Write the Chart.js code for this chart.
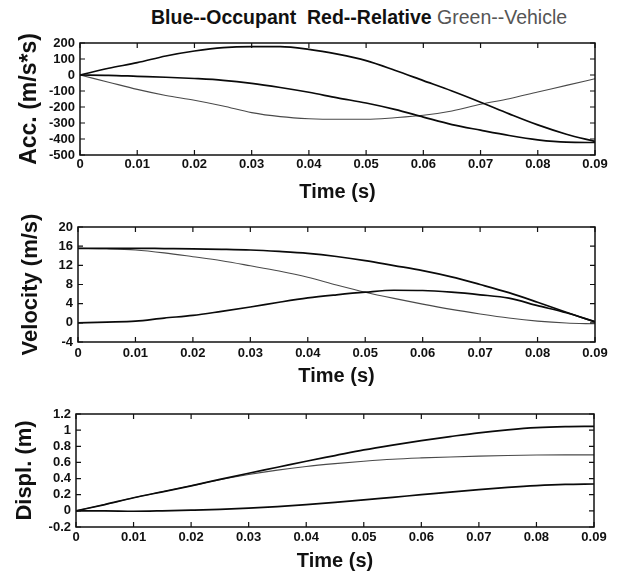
<!DOCTYPE html>
<html>
<head>
<meta charset="utf-8">
<script src="https://cdn.jsdelivr.net/npm/chart.js@4.4.1/dist/chart.umd.min.js"></script>
<style>
  html, body { margin: 0; padding: 0; background: #fff; }
  #wrap { position: relative; width: 619px; height: 578px; background: #fff; overflow: hidden; }
  canvas { position: absolute; left: 0; }
  #title { position: absolute; left: 151px; top: 6px; white-space: nowrap;
           font-family: "Liberation Sans", Arial, Helvetica, sans-serif; font-size: 19.5px; line-height: 22px; }
  #title .b { font-weight: bold; color: #111; }
  #title .g { font-weight: normal; color: #555; }
</style>
</head>
<body>
<div id="wrap">
  <div id="title"><span class="b">Blue--Occupant&nbsp;&nbsp;Red--Relative</span> <span class="g">Green--Vehicle</span></div>
  <canvas id="c1" width="619" height="182" style="top:28px"></canvas>
  <canvas id="c2" width="619" height="183" style="top:212px"></canvas>
  <canvas id="c3" width="619" height="180" style="top:398px"></canvas>
</div>
<script>
// ---- data (time in s) ----
const time = [0, 0.005, 0.01, 0.015, 0.02, 0.025, 0.03, 0.035, 0.04, 0.045,
              0.05, 0.055, 0.06, 0.065, 0.07, 0.075, 0.08, 0.085, 0.09];
const xTickLabels = ['0', '0.01', '0.02', '0.03', '0.04', '0.05', '0.06', '0.07', '0.08', '0.09'];

// Acceleration (m/s*s)
const accOccupant = [0, -2, -8, -14, -22, -33, -52, -78, -108, -143, -175, -215, -263, -310, -345, -378, -405, -420, -422];
const accRelative = [0, 42, 77, 119, 150, 171, 177, 177, 160, 130, 90, 30, -35, -100, -170, -243, -312, -370, -415];
const accVehicle  = [0, -45, -90, -128, -158, -194, -235, -260, -273, -277, -277, -267, -252, -225, -183, -148, -106, -65, -23];

// Velocity (m/s)
const velOccupant = [15.55, 15.55, 15.55, 15.5, 15.45, 15.35, 15.2, 14.9, 14.5, 13.85, 13.0, 11.95, 10.9, 9.6, 8.0, 6.3, 4.3, 2.2, 0.2];
const velRelative = [0, 0.15, 0.35, 1.0, 1.55, 2.4, 3.3, 4.3, 5.2, 5.85, 6.4, 6.8, 6.75, 6.4, 5.85, 5.15, 3.6, 2.1, 0.25];
const velVehicle  = [15.55, 15.45, 15.2, 14.6, 13.8, 12.95, 11.9, 10.8, 9.5, 7.9, 6.4, 5.1, 3.9, 2.8, 1.85, 1.0, 0.35, -0.05, -0.2];

// Displacement (m)
const dispOccupant = [0, 0.078, 0.162, 0.236, 0.31, 0.39, 0.466, 0.54, 0.615, 0.685, 0.755, 0.815, 0.87, 0.92, 0.967, 1.003, 1.03, 1.043, 1.047];
const dispRelative = [0, 0, -0.005, 0, 0.008, 0.018, 0.033, 0.053, 0.077, 0.105, 0.135, 0.168, 0.2, 0.233, 0.263, 0.29, 0.312, 0.327, 0.333];
const dispVehicle  = [0, 0.078, 0.162, 0.236, 0.31, 0.385, 0.45, 0.505, 0.55, 0.585, 0.615, 0.64, 0.656, 0.668, 0.678, 0.686, 0.692, 0.694, 0.694];

// ---- styling ----
const FONT = '"Liberation Sans", Arial, Helvetica, sans-serif';
const INK = '#111';

const boxTicks = {
  id: 'boxTicks',
  afterDatasetsDraw(chart) {
    const {ctx, chartArea: a, scales: {x, y}} = chart;
    ctx.save();
    ctx.strokeStyle = INK;
    ctx.lineWidth = 1.5;
    ctx.strokeRect(a.left, a.top, a.right - a.left, a.bottom - a.top);
    const L = 5;
    ctx.lineWidth = 1.2;
    ctx.beginPath();
    x.ticks.forEach(t => {
      const px = x.getPixelForValue(t.value);
      ctx.moveTo(px, a.bottom); ctx.lineTo(px, a.bottom - L);
      ctx.moveTo(px, a.top); ctx.lineTo(px, a.top + L);
    });
    y.ticks.forEach(t => {
      const py = y.getPixelForValue(t.value);
      ctx.moveTo(a.left, py); ctx.lineTo(a.left + L, py);
      ctx.moveTo(a.right, py); ctx.lineTo(a.right - L, py);
    });
    ctx.stroke();
    ctx.restore();
  }
};

function series(vals, dark) {
  return {
    data: vals.map((v, i) => ({x: time[i], y: v})),
    borderColor: dark ? '#0a0a0a' : '#4a4a4a',
    borderWidth: dark ? 1.7 : 1.1,
    pointRadius: 0,
    cubicInterpolationMode: 'monotone',
    fill: false
  };
}

function makeChart(id, o) {
  new Chart(document.getElementById(id), {
    type: 'line',
    data: {
      datasets: [series(o.occ, true), series(o.rel, true), series(o.veh, false)]
    },
    plugins: [boxTicks],
    options: {
      responsive: false,
      animation: false,
      events: [],
      layout: { padding: { left: 0, right: 619 - o.right, top: o.padTop, bottom: 0 } },
      plugins: { legend: { display: false }, tooltip: { enabled: false }, title: { display: false } },
      scales: {
        x: {
          type: 'linear', min: 0, max: 0.09,
          grid: { display: false, drawTicks: false },
          border: { display: false },
          ticks: {
            stepSize: 0.01, autoSkip: false, maxRotation: 0, minRotation: 0,
            padding: o.xPad, color: INK,
            font: { family: FONT, size: 13, weight: 'bold' },
            callback: (v) => xTickLabels[Math.round(v * 100)]
          },
          title: {
            display: true, text: 'Time (s)', color: INK,
            font: { family: FONT, size: 20, weight: 'bold' },
            padding: { top: 0, bottom: o.xTitlePad }
          },
          afterFit: (s) => { s.height = o.xHeight; }
        },
        y: {
          type: 'linear', min: o.yMin, max: o.yMax,
          grid: { display: false, drawTicks: false },
          border: { display: false },
          ticks: {
            stepSize: o.yStep, autoSkip: false, padding: 5, color: INK,
            font: { family: FONT, size: 13, weight: 'bold' },
            callback: o.yFmt
          },
          title: {
            display: true, text: o.yTitle, color: INK,
            font: { family: FONT, size: o.yTitleSize, weight: 'bold' },
            padding: { top: o.yTitlePad, bottom: 0 }
          },
          afterFit: (s) => { s.width = o.left; }
        }
      }
    }
  });
}

makeChart('c1', {
  occ: accOccupant, rel: accRelative, veh: accVehicle,
  left: 80, right: 595, padTop: 15, xHeight: 55, xPad: 2, xTitlePad: 6,
  yMin: -500, yMax: 200, yStep: 100, yTitle: 'Acc. (m/s*s)', yTitlePad: 16, yTitleSize: 23,
  yFmt: (v) => String(Math.round(v))
});
makeChart('c2', {
  occ: velOccupant, rel: velRelative, veh: velVehicle,
  left: 78, right: 595, padTop: 15, xHeight: 53, xPad: 4, xTitlePad: 7,
  yMin: -4, yMax: 20, yStep: 4, yTitle: 'Velocity (m/s)', yTitlePad: 18, yTitleSize: 22,
  yFmt: (v) => String(Math.round(v))
});
makeChart('c3', {
  occ: dispOccupant, rel: dispRelative, veh: dispVehicle,
  left: 76, right: 594, padTop: 16, xHeight: 51, xPad: 3, xTitlePad: 5,
  yMin: -0.2, yMax: 1.2, yStep: 0.2, yTitle: 'Displ. (m)', yTitlePad: 12, yTitleSize: 22,
  yFmt: (v) => String(Math.round(v * 10) / 10)
});
</script>
</body>
</html>
